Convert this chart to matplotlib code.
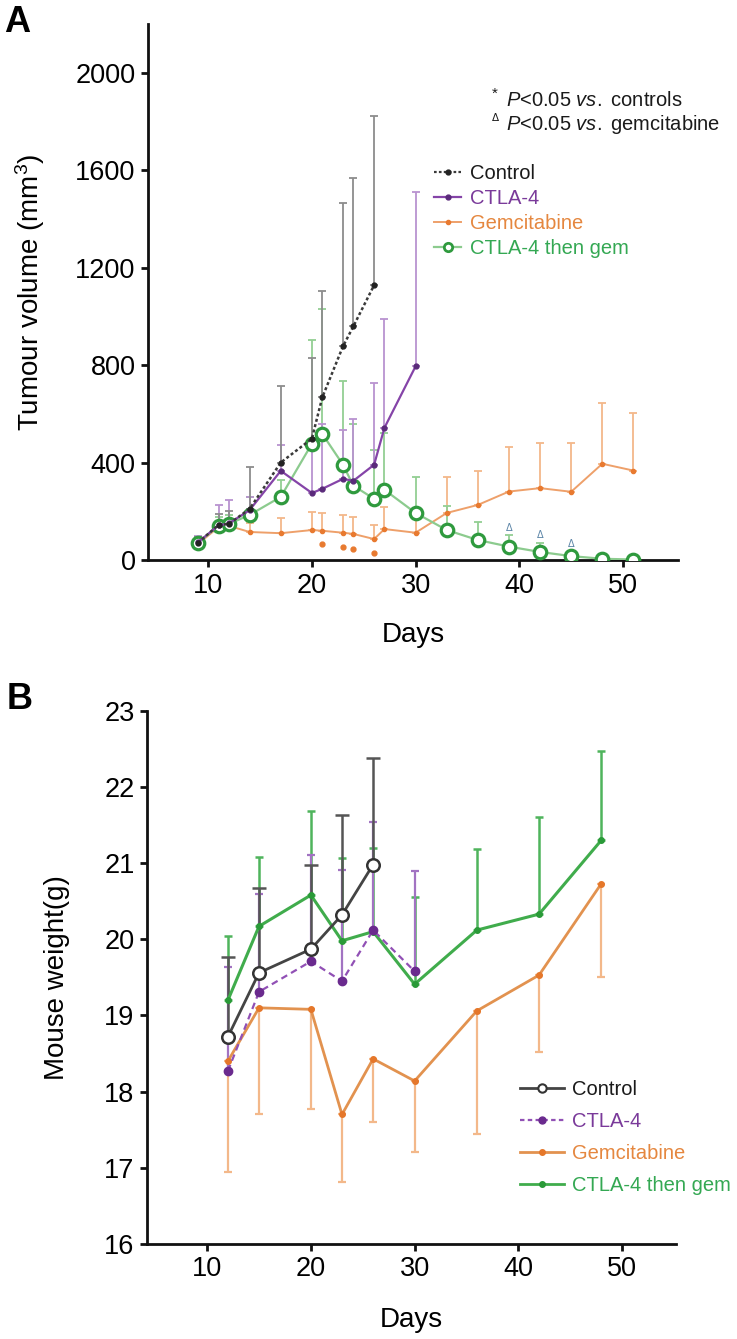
import matplotlib
matplotlib.use("Agg")
import matplotlib.pyplot as plt
import numpy as np
from matplotlib.lines import Line2D

plt.rcParams['font.family'] = ['Liberation Sans', 'DejaVu Sans']
plt.rcParams['mathtext.fontset'] = 'custom'
plt.rcParams['mathtext.it'] = 'Liberation Sans:italic'
plt.rcParams['mathtext.rm'] = 'Liberation Sans'

# ---------------- Panel A data: tumour volume ----------------
ctrl_days_a = [9, 11, 12, 14, 17, 20, 21, 23, 24, 26]
ctrl_vol = [70, 144, 148, 210, 400, 498, 667, 877, 959, 1128]
ctrl_vol_top = [95, 190, 200, 383, 716, 831, 1103, 1465, 1568, 1823]

ctla_days_a = [9, 11, 12, 14, 17, 20, 21, 23, 24, 26, 27, 30]
ctla_vol = [72, 142, 150, 205, 366, 275, 292, 333, 325, 391, 543, 795]
ctla_vol_top = [100, 226, 247, 260, 470, 473, 560, 535, 580, 727, 990, 1510]

gem_days_a = [9, 11, 12, 14, 17, 20, 21, 23, 24, 26, 27, 30, 33, 36, 39, 42, 45, 48, 51]
gem_vol = [65, 135, 140, 115, 110, 123, 120, 112, 107, 86, 127, 112, 193, 226, 281, 295, 280, 395, 367]
gem_vol_top = [80, 160, 165, 150, 173, 197, 193, 185, 177, 144, 218, 200, 342, 366, 465, 481, 481, 646, 605]

combo_days_a = [9, 11, 12, 14, 17, 20, 21, 23, 24, 26, 27, 30, 33, 36, 39, 42, 45, 48, 51]
combo_vol = [70, 140, 148, 185, 259, 477, 518, 391, 305, 251, 288, 193, 123, 82, 55, 33, 16, 5, 2]
combo_vol_top = [90, 175, 185, 260, 330, 903, 1030, 736, 560, 453, 522, 340, 222, 157, 103, 70, 30, 10, 5]

star_days = [21, 23, 24, 26]
star_vol = [66, 53, 45, 29]
delta_days = [39, 42, 45]
delta_vol = [131, 103, 66]

# ---------------- Panel B data: mouse weight ----------------
ctrl_days_b = [12, 15, 20, 23, 26]
ctrl_w = [18.72, 19.56, 19.87, 20.32, 20.98]
ctrl_w_top = [19.77, 20.67, 20.98, 21.63, 22.38]

ctla_days_b = [12, 15, 20, 23, 26, 30]
ctla_w = [18.27, 19.31, 19.71, 19.45, 20.12, 19.58]
ctla_w_top = [19.64, 20.60, 21.10, 20.91, 21.54, 20.90]

gem_days_b = [12, 15, 20, 23, 26, 30, 36, 42, 48]
gem_w = [18.40, 19.10, 19.08, 17.70, 18.43, 18.14, 19.06, 19.53, 20.73]
gem_w_bot = [16.95, 17.70, 17.77, 16.81, 17.60, 17.21, 17.44, 18.52, 19.50]

combo_days_b = [12, 15, 20, 23, 26, 30, 36, 42, 48]
combo_w = [19.20, 20.17, 20.58, 19.98, 20.10, 19.41, 20.12, 20.33, 21.30]
combo_w_top = [20.04, 21.08, 21.68, 21.07, 21.20, 20.56, 21.18, 21.61, 22.47]

labels = ["Control", "CTLA-4", "Gemcitabine", "CTLA-4 then gem"]

# colours
C_CTRL = '#3a3a3a'
C_CTRL_ERR = '#8c8c8c'
C_CTLA = '#8544a8'
C_CTLA_ERR = '#b993d0'
C_CTLA_TXT = '#7a3a9a'
C_GEM = '#eea06a'
C_GEM_MK = '#e87a30'
C_GEM_ERR = '#f3b88a'
C_GEM_TXT = '#e5873f'
C_COMBO_LINE = '#8ccb8e'
C_COMBO_MK = '#2f9a3e'
C_COMBO_ERR = '#93cf93'
C_COMBO_TXT = '#34a853'

W, H = 737, 1339
fig = plt.figure(figsize=(W / 100, H / 100), dpi=100)

def fx(px):
    return px / W

def fy(py):
    return 1 - py / H

TICK_FS = 19.5
LABEL_FS = 20
LEG_FS = 14.5

def style_axes(ax):
    for s in ['top', 'right']:
        ax.spines[s].set_visible(False)
    for s in ['left', 'bottom']:
        ax.spines[s].set_linewidth(2.0)
        ax.spines[s].set_color('#111111')
    ax.tick_params(direction='out', length=5, width=2.0, labelsize=TICK_FS,
                   color='#111111', pad=4)

def up_err(ax, x, y, top, color, lw=1.3, cap=3, z=1):
    y = np.asarray(y, float)
    top = np.asarray(top, float)
    ax.errorbar(x, y, yerr=[np.zeros_like(y), top - y], fmt='none', ecolor=color,
                elinewidth=lw, capsize=cap, capthick=lw, zorder=z)

def down_err(ax, x, y, bot, color, lw=1.3, cap=3, z=1):
    y = np.asarray(y, float)
    bot = np.asarray(bot, float)
    ax.errorbar(x, y, yerr=[y - bot, np.zeros_like(y)], fmt='none', ecolor=color,
                elinewidth=lw, capsize=cap, capthick=lw, zorder=z)

# ---------------- Panel A ----------------
axA = fig.add_axes([fx(148), fy(560), fx(678 - 148), (560 - 24) / H])
style_axes(axA)
axA.set_xlim(4.2, 55.3)
axA.set_ylim(0, 2200)
axA.set_xticks([10, 20, 30, 40, 50])
axA.set_yticks([0, 400, 800, 1200, 1600, 2000])

up_err(axA, gem_days_a, gem_vol, gem_vol_top, C_GEM_ERR, z=1)
up_err(axA, combo_days_a, combo_vol, combo_vol_top, C_COMBO_ERR, z=1)
up_err(axA, ctla_days_a, ctla_vol, ctla_vol_top, C_CTLA_ERR, z=1)
up_err(axA, ctrl_days_a, ctrl_vol, ctrl_vol_top, C_CTRL_ERR, z=1)

axA.plot(gem_days_a, gem_vol, '-', color=C_GEM, lw=1.4, marker='o', ms=3,
         mfc=C_GEM_MK, mec=C_GEM_MK, zorder=3)
axA.plot(combo_days_a, combo_vol, '-', color=C_COMBO_LINE, lw=1.6, marker='o', ms=9,
         mfc='white', mec=C_COMBO_MK, mew=2.3, zorder=4)
axA.plot(ctla_days_a, ctla_vol, '-', color=C_CTLA, lw=1.6, marker='o', ms=3.5,
         mfc='#5a2a7a', mec='#5a2a7a', zorder=5)
axA.plot(ctrl_days_a, ctrl_vol, linestyle=(0, (1.2, 1.0)), color=C_CTRL, lw=1.8,
         marker='o', ms=3.5, mfc='#222222', mec='#222222', zorder=6)

axA.plot(star_days, star_vol, 'o', ms=3.5, color=C_GEM_MK, ls='none', zorder=6)
for d, v in zip(delta_days, delta_vol):
    axA.text(d, v, '\u0394', fontsize=7, color='#5d86a8', ha='center', va='center',
             family='DejaVu Sans', zorder=6)

axA.set_ylabel('Tumour volume (mm$^{3}$)', fontsize=LABEL_FS, va='center')
axA.yaxis.set_label_coords((30 - 148) / 530, 0.5)
axA.set_xlabel('Days', fontsize=LABEL_FS, va='center')
axA.xaxis.set_label_coords(0.5, -(635 - 560) / 536)

handlesA = [
    Line2D([], [], linestyle=(0, (1.2, 1.0)), color=C_CTRL, lw=1.6, marker='o', ms=3.5,
           mfc='#222222', mec='#222222'),
    Line2D([], [], color=C_CTLA, lw=1.6, marker='o', ms=3.5, mfc='#5a2a7a', mec='#5a2a7a'),
    Line2D([], [], color=C_GEM, lw=1.4, marker='o', ms=3, mfc=C_GEM_MK, mec=C_GEM_MK),
    Line2D([], [], color=C_COMBO_LINE, lw=1.6, marker='o', ms=6, mfc='white',
           mec=C_COMBO_MK, mew=2),
]
legA = fig.legend(handlesA, labels, loc='upper left', bbox_to_anchor=(fx(434), fy(164)),
                  frameon=False, fontsize=LEG_FS, handlelength=1.35, handletextpad=0.45,
                  labelspacing=0.3, borderpad=0, borderaxespad=0)
for t, c in zip(legA.get_texts(), ['#1a1a1a', C_CTLA_TXT, C_GEM_TXT, C_COMBO_TXT]):
    t.set_color(c)

fig.text(fx(506), fy(100), r'$\it{P}$<0.05 $\it{vs.}$ controls', fontsize=LEG_FS,
         ha='left', va='center', color='#1a1a1a')
fig.text(fx(506), fy(125), r'$\it{P}$<0.05 $\it{vs.}$ gemcitabine', fontsize=LEG_FS,
         ha='left', va='center', color='#1a1a1a')
fig.text(fx(495), fy(94), '*', fontsize=11, ha='center', va='center', color='#1a1a1a')
fig.text(fx(495), fy(118), '\u0394', fontsize=7.5, ha='center', va='center', color='#1a1a1a',
         family='DejaVu Sans')

fig.text(fx(4), fy(22), 'A', fontsize=26, fontweight='bold', ha='left', va='center')

# ---------------- Panel B ----------------
axB = fig.add_axes([fx(147), fy(1244), fx(676 - 147), (1244 - 710.7) / H])
style_axes(axB)
axB.set_xlim(4.2, 55.2)
axB.set_ylim(16, 23)
axB.set_xticks([10, 20, 30, 40, 50])
axB.set_yticks([16, 17, 18, 19, 20, 21, 22, 23])

down_err(axB, gem_days_b, gem_w, gem_w_bot, C_GEM_ERR, lw=1.6, cap=3, z=1)
up_err(axB, combo_days_b, combo_w, combo_w_top, '#4fb45c', lw=1.8, cap=3, z=2)
up_err(axB, ctla_days_b, ctla_w, ctla_w_top, '#a273c2', lw=1.6, cap=3, z=2)
up_err(axB, ctrl_days_b, ctrl_w, ctrl_w_top, '#555555', lw=1.8, cap=5, z=2)

axB.plot(gem_days_b, gem_w, '-', color='#e2924f', lw=2.0, marker='o', ms=4,
         mfc='#e5772a', mec='#e5772a', zorder=3)
axB.plot(combo_days_b, combo_w, '-', color='#40ac4c', lw=2.2, marker='o', ms=4,
         mfc='#2a9a38', mec='#2a9a38', zorder=4)
axB.plot(ctla_days_b, ctla_w, linestyle=(0, (3, 2)), color='#9150b5', lw=1.6, marker='o',
         ms=6, mfc='#6a2a8e', mec='#6a2a8e', zorder=5)
axB.plot(ctrl_days_b, ctrl_w, '-', color='#444444', lw=2.0, marker='o', ms=9,
         mfc='white', mec='#333333', mew=1.8, zorder=6)

axB.set_ylabel('Mouse weight(g)', fontsize=LABEL_FS, va='center')
axB.yaxis.set_label_coords((57 - 147) / 529, 0.5)
axB.set_xlabel('Days', fontsize=LABEL_FS, va='center')
axB.xaxis.set_label_coords(0.5, -(1320 - 1244) / 533.3)

handlesB = [
    Line2D([], [], color='#444444', lw=2.0, marker='o', ms=6, mfc='white', mec='#333333',
           mew=1.5),
    Line2D([], [], linestyle=(0, (2, 1.5)), color='#9150b5', lw=1.6, marker='o', ms=5,
           mfc='#6a2a8e', mec='#6a2a8e'),
    Line2D([], [], color='#e2924f', lw=2.0, marker='o', ms=4, mfc='#e5772a', mec='#e5772a'),
    Line2D([], [], color='#40ac4c', lw=2.0, marker='o', ms=4, mfc='#2a9a38', mec='#2a9a38'),
]
legB = fig.legend(handlesB, labels, loc='upper left', bbox_to_anchor=(fx(520), fy(1080)),
                  frameon=False, fontsize=LEG_FS, handlelength=2.2, handletextpad=0.4,
                  labelspacing=0.65, borderpad=0, borderaxespad=0)
for t, c in zip(legB.get_texts(), ['#1a1a1a', C_CTLA_TXT, C_GEM_TXT, C_COMBO_TXT]):
    t.set_color(c)

fig.text(fx(7), fy(700), 'B', fontsize=26, fontweight='bold', ha='left', va='center')

fig.savefig('out.png', dpi=100)
